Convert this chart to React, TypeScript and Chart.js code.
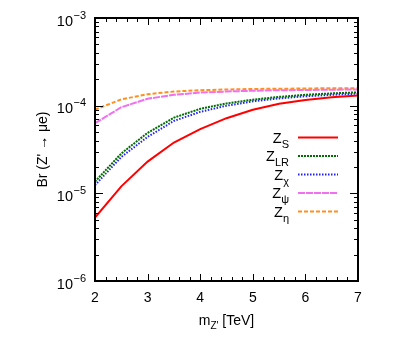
import React, { useEffect, useRef } from "react";
import { Chart, registerables } from "chart.js";

Chart.register(...registerables);

// ---- data ----
const masses = [2, 2.5, 3, 3.5, 4, 4.5, 5, 5.5, 6, 6.5, 7];
const brZS = [5.3e-6, 1.2e-5, 2.3e-5, 3.8e-5, 5.4e-5, 7.2e-5, 9.0e-5, 1.05e-4, 1.16e-4, 1.25e-4, 1.31e-4];
const brZLR = [1.36e-5, 2.85e-5, 4.9e-5, 7.3e-5, 9.2e-5, 1.06e-4, 1.17e-4, 1.26e-4, 1.33e-4, 1.38e-4, 1.42e-4];
const brZchi = [1.24e-5, 2.6e-5, 4.4e-5, 6.7e-5, 8.5e-5, 1.0e-4, 1.12e-4, 1.21e-4, 1.28e-4, 1.33e-4, 1.37e-4];
const brZpsi = [6.3e-5, 9.6e-5, 1.2e-4, 1.33e-4, 1.41e-4, 1.45e-4, 1.48e-4, 1.5e-4, 1.51e-4, 1.52e-4, 1.53e-4];
const brZeta = [9.0e-5, 1.18e-4, 1.35e-4, 1.45e-4, 1.5e-4, 1.53e-4, 1.55e-4, 1.56e-4, 1.57e-4, 1.58e-4, 1.58e-4];

const xTickLabels = ["2", "3", "4", "5", "6", "7"];
const yTickExponents = ["-3", "-4", "-5", "-6"];

const seriesNames = ["S", "LR", "χ", "ψ", "η"];
const seriesColors = ["#ff0000", "#006e00", "#2020ff", "#f070f0", "#ff9020"];
const seriesDashes: number[][] = [[], [2, 1], [1.5, 1.5], [7, 1], [4, 2]];
const seriesData = [brZS, brZLR, brZchi, brZpsi, brZeta];

const FONT = "'Liberation Sans', Arial, Helvetica, sans-serif";

const decorPlugin = {
  id: "decor",
  afterDraw(chart: any) {
    const ctx = chart.ctx as CanvasRenderingContext2D;
    const xs = chart.scales.x;
    const ys = chart.scales.y;
    const { left, right, top, bottom } = chart.chartArea;
    ctx.save();
    ctx.strokeStyle = "#000";
    ctx.fillStyle = "#000";

    // ticks (inside, mirrored)
    ctx.lineWidth = 1;
    const tick = (x1: number, y1: number, x2: number, y2: number) => {
      ctx.beginPath();
      ctx.moveTo(x1, y1);
      ctx.lineTo(x2, y2);
      ctx.stroke();
    };
    for (let i = 0; i <= 25; i++) {
      const v = 2 + i * 0.2;
      const px = Math.round(xs.getPixelForValue(v)) + 0.5;
      const major = i % 5 === 0;
      const len = major ? 7 : 4;
      tick(px, bottom, px, bottom - len);
      tick(px, top, px, top + len);
    }
    for (let d = -6; d <= -3; d++) {
      for (let k = 1; k <= 9; k++) {
        if (d === -3 && k > 1) break;
        const v = k * Math.pow(10, d);
        const py = Math.round(ys.getPixelForValue(v)) + 0.5;
        const len = k === 1 ? 8 : 4;
        tick(left, py, left + len, py);
        tick(right, py, right - len, py);
      }
    }

    // frame
    ctx.lineWidth = 2;
    ctx.strokeRect(left, top, right - left, bottom - top);

    // x tick labels
    ctx.font = `14px ${FONT}`;
    ctx.textAlign = "center";
    ctx.textBaseline = "alphabetic";
    xTickLabels.forEach((t) => {
      const px = xs.getPixelForValue(parseFloat(t));
      ctx.fillText(t, px, 302);
    });

    // y tick labels 10^n
    yTickExponents.forEach((e) => {
      const py = ys.getPixelForValue(Math.pow(10, parseFloat(e)));
      const expText = e.replace("-", "\u2212");
      ctx.font = `11px ${FONT}`;
      const ew = ctx.measureText(expText).width;
      ctx.textAlign = "left";
      ctx.fillText(expText, 86 - ew, py + 0.5);
      ctx.font = `14.5px ${FONT}`;
      ctx.textAlign = "right";
      ctx.fillText("10", 86 - ew - 0.5, py + 7.5);
    });

    // x title: m_{Z'} [TeV]
    {
      ctx.textAlign = "left";
      ctx.font = `14px ${FONT}`;
      const mW = ctx.measureText("m").width;
      const tW = ctx.measureText(" [TeV]").width;
      ctx.font = `10px ${FONT}`;
      const sW = ctx.measureText("Z'").width;
      const total = mW + sW + tW;
      const cx = (left + right) / 2;
      const x0 = cx - total / 2;
      ctx.font = `14px ${FONT}`;
      ctx.fillText("m", x0, 325);
      ctx.font = `10px ${FONT}`;
      ctx.fillText("Z'", x0 + mW, 329);
      ctx.font = `14px ${FONT}`;
      ctx.fillText(" [TeV]", x0 + mW + sW, 325);
    }

    // y title
    ctx.save();
    ctx.translate(47, (top + bottom) / 2);
    ctx.rotate(-Math.PI / 2);
    ctx.font = `14px ${FONT}`;
    ctx.textAlign = "center";
    ctx.fillText("Br (Z' \u2192 \u03bce)", 0, 0);
    ctx.restore();

    // legend
    const legendY = [137.5, 156, 174.5, 193, 211.5];
    seriesNames.forEach((name, i) => {
      const ly = legendY[i];
      ctx.font = `11px ${FONT}`;
      const sw = ctx.measureText(name).width;
      ctx.font = `14.5px ${FONT}`;
      const zw = ctx.measureText("Z").width;
      const textRight = 289;
      ctx.textAlign = "left";
      ctx.fillStyle = "#000";
      ctx.fillText("Z", textRight - sw - zw, ly + 5);
      ctx.font = `11px ${FONT}`;
      ctx.fillText(name, textRight - sw, ly + 10);
      ctx.strokeStyle = seriesColors[i];
      ctx.lineWidth = 2;
      ctx.setLineDash(seriesDashes[i]);
      ctx.beginPath();
      ctx.moveTo(298, ly);
      ctx.lineTo(338, ly);
      ctx.stroke();
      ctx.setLineDash([]);
    });

    ctx.restore();
  },
};

export default function App() {
  const ref = useRef<HTMLCanvasElement | null>(null);
  useEffect(() => {
    if (!ref.current) return;
    const chart = new Chart(ref.current, {
      type: "line",
      data: {
        datasets: seriesData.map((vals, i) => ({
          label: "Z" + seriesNames[i],
          data: masses.map((m, j) => ({ x: m, y: vals[j] })),
          borderColor: seriesColors[i],
          backgroundColor: seriesColors[i],
          borderWidth: 2,
          borderDash: seriesDashes[i],
          pointRadius: 0,
          tension: 0,
          fill: false,
        })),
      },
      options: {
        responsive: false,
        animation: false,
        devicePixelRatio: 1,
        layout: { padding: { left: 95, right: 57, top: 18, bottom: 65 } },
        plugins: { legend: { display: false }, tooltip: { enabled: false } },
        scales: {
          x: { type: "linear", min: 2, max: 7, display: false },
          y: { type: "logarithmic", min: 1e-6, max: 1e-3, display: false },
        },
      },
      plugins: [decorPlugin],
    });
    return () => chart.destroy();
  }, []);
  return (
    <div style={{ position: "fixed", left: 0, top: 0, width: 415, height: 346, background: "#fff" }}>
      <canvas ref={ref} width={415} height={346} style={{ width: 415, height: 346 }} />
    </div>
  );
}
